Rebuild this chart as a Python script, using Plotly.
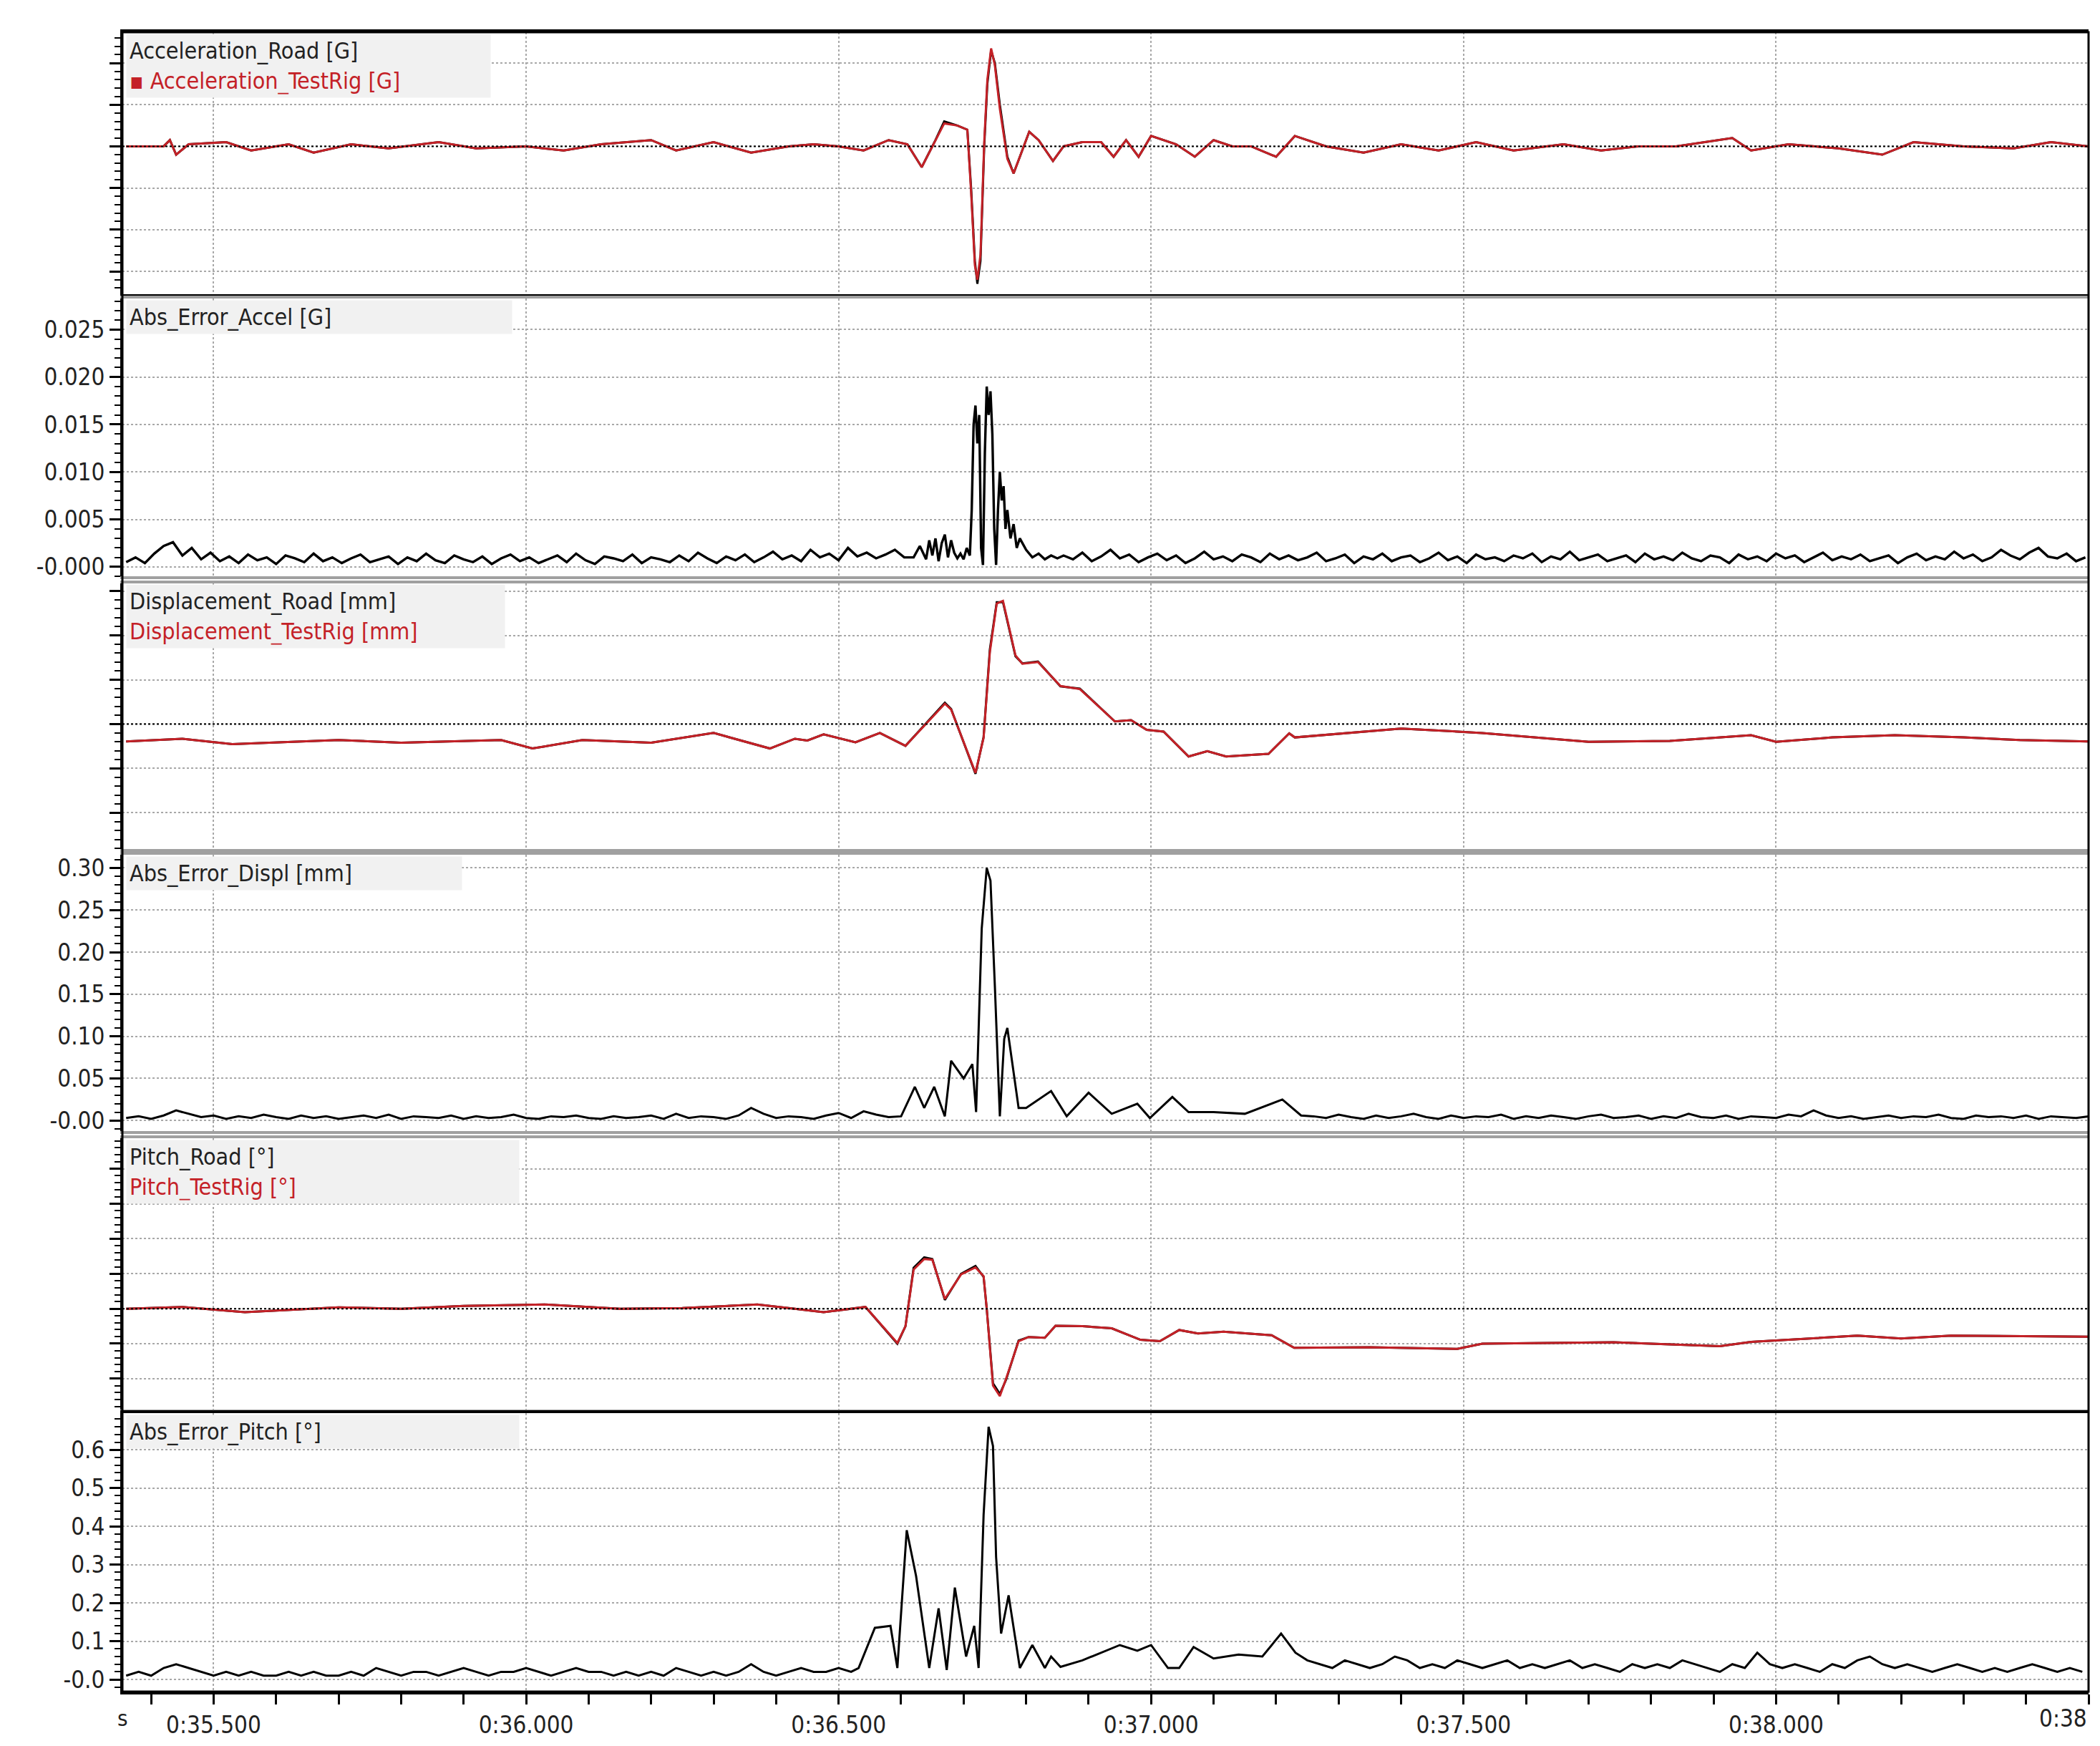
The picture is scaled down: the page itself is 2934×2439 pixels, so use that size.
import plotly.graph_objects as go
from plotly.subplots import make_subplots

# ---- data (time in s) ----
accel_t = [35.36, 35.42, 35.43, 35.44, 35.46, 35.52, 35.56, 35.62, 35.66, 35.72,
           35.78, 35.86, 35.92, 36.0, 36.06, 36.12, 36.2, 36.24, 36.3, 36.36,
           36.42, 36.46, 36.5, 36.54, 36.58, 36.61, 36.633, 36.655, 36.669, 36.69,
           36.706, 36.712, 36.718, 36.722, 36.727, 36.733, 36.738, 36.744, 36.75, 36.758,
           36.77, 36.78, 36.79, 36.805, 36.82, 36.843, 36.86, 36.89, 36.92, 36.94,
           36.96, 36.98, 37.0, 37.04, 37.07, 37.1, 37.13, 37.16, 37.2, 37.23,
           37.28, 37.34, 37.4, 37.46, 37.52, 37.58, 37.66, 37.72, 37.78, 37.84,
           37.93, 37.96, 38.02, 38.1, 38.17, 38.22, 38.3, 38.38, 38.44, 38.5]
accel_road = [0.0, 0.0, 0.03, -0.04, 0.01, 0.02, -0.02, 0.01, -0.03, 0.01,
              -0.01, 0.02, -0.01, 0.0, -0.02, 0.01, 0.03, -0.02, 0.02, -0.03,
              0.0, 0.01, 0.0, -0.02, 0.03, 0.01, -0.1, 0.03, 0.12, 0.1,
              0.08, -0.2, -0.55, -0.66, -0.55, 0.0, 0.3, 0.46, 0.4, 0.2,
              -0.05, -0.13, -0.05, 0.07, 0.03, -0.07, 0.0, 0.02, 0.02, -0.05,
              0.03, -0.05, 0.05, 0.01, -0.05, 0.03, 0.0, 0.0, -0.05, 0.05,
              0.0, -0.03, 0.01, -0.02, 0.02, -0.02, 0.01, -0.02, 0.0, 0.0,
              0.04, -0.02, 0.01, -0.01, -0.04, 0.02, 0.0, -0.01, 0.02, 0.0]
accel_rig = [0.0, 0.0, 0.03, -0.04, 0.01, 0.02, -0.02, 0.01, -0.03, 0.01,
             -0.01, 0.02, -0.01, 0.0, -0.02, 0.01, 0.03, -0.02, 0.02, -0.03,
             0.0, 0.01, 0.0, -0.02, 0.03, 0.01, -0.1, 0.03, 0.11, 0.1,
             0.08, -0.22, -0.57, -0.64, -0.52, 0.02, 0.32, 0.47, 0.39, 0.18,
             -0.06, -0.13, -0.05, 0.07, 0.03, -0.07, 0.0, 0.02, 0.02, -0.05,
             0.03, -0.05, 0.05, 0.01, -0.05, 0.03, 0.0, 0.0, -0.05, 0.05,
             0.0, -0.03, 0.01, -0.02, 0.02, -0.02, 0.01, -0.02, 0.0, 0.0,
             0.04, -0.02, 0.01, -0.01, -0.04, 0.02, 0.0, -0.01, 0.02, 0.0]

# abs accel error, x1e-4 G; background every 15 ms
err_acc_bg1 = [5, 10, 4, 14, 22, 26, 12, 20, 8, 15, 6, 11, 4, 13, 7, 10, 3, 12, 9, 5,
               14, 6, 10, 4, 9, 13, 5, 8, 11, 3, 10, 6, 14, 7, 4, 12, 8, 5, 11, 3,
               9, 13, 6, 10, 4, 8, 12, 5, 14, 7, 3, 11, 9, 6, 13, 4, 10, 8, 5, 12,
               6, 15, 9, 4, 11, 7, 13, 5, 10, 16, 8, 12, 6, 18, 10, 14, 7, 20, 11, 15,
               9, 13, 18, 10]
err_acc_ev_t = [36.62, 36.63, 36.64, 36.645, 36.65, 36.655, 36.66, 36.665, 36.67, 36.675,
                36.68, 36.685, 36.69, 36.695, 36.70, 36.705, 36.71, 36.713, 36.716, 36.719,
                36.722, 36.725, 36.728, 36.731, 36.734, 36.737, 36.74, 36.743, 36.746, 36.749,
                36.752, 36.755, 36.758, 36.761, 36.764, 36.767, 36.77, 36.775, 36.78, 36.785,
                36.79, 36.80, 36.81, 36.82, 36.83, 36.84, 36.85]
err_acc_ev = [10, 22, 8, 28, 12, 30, 6, 25, 34, 10,
              28, 15, 9, 14, 8, 20, 12, 60, 150, 170,
              130, 160, 20, 2, 120, 190, 160, 185, 140, 40,
              2, 60, 100, 70, 85, 40, 60, 30, 45, 20,
              30, 18, 10, 14, 8, 12, 9]
err_acc_bg2 = [12, 8, 15, 6, 11, 18, 9, 13, 5, 10, 14, 7, 12, 4, 9, 16, 8, 11, 6, 13,
               10, 5, 14, 8, 12, 7, 10, 15, 6, 9, 13, 4, 11, 8, 14, 6, 10, 12, 5, 9,
               15, 7, 11, 4, 13, 8, 10, 6, 12, 9, 14, 5, 11, 8, 16, 7, 10, 13, 6, 9,
               12, 5, 14, 8, 11, 7, 15, 9, 6, 12, 10, 4, 13, 8, 11, 6, 14, 9, 12, 5,
               10, 15, 7, 11, 8, 13, 6, 9, 12, 4, 10, 14, 7, 11, 8, 16, 9, 13, 6, 10,
               18, 12, 8, 15, 20, 11, 9, 14, 6, 10]

displ_t = [35.36, 35.45, 35.53, 35.7, 35.8, 35.9, 35.96, 36.01, 36.09, 36.2,
           36.3, 36.39, 36.43, 36.45, 36.476, 36.527, 36.566, 36.607, 36.67, 36.68,
           36.719, 36.732, 36.742, 36.753, 36.763, 36.783, 36.794, 36.819, 36.855, 36.886,
           36.942, 36.968, 36.993, 37.02, 37.06, 37.09, 37.12, 37.188, 37.221, 37.23,
           37.4, 37.53, 37.7, 37.83, 37.96, 38.0, 38.09, 38.19, 38.3, 38.39, 38.5]
displ_road = [-0.39, -0.33, -0.45, -0.36, -0.42, -0.38, -0.36, -0.55, -0.36, -0.42,
              -0.2, -0.55, -0.33, -0.37, -0.23, -0.41, -0.2, -0.49, 0.48, 0.34,
              -1.12, -0.29, 1.68, 2.75, 2.75, 1.53, 1.37, 1.41, 0.85, 0.8,
              0.06, 0.09, -0.13, -0.17, -0.73, -0.61, -0.73, -0.67, -0.21, -0.3,
              -0.1, -0.2, -0.4, -0.38, -0.25, -0.4, -0.3, -0.25, -0.3, -0.36, -0.39]
displ_rig = [-0.39, -0.33, -0.45, -0.36, -0.42, -0.38, -0.36, -0.55, -0.36, -0.42,
             -0.2, -0.55, -0.33, -0.37, -0.23, -0.41, -0.2, -0.49, 0.46, 0.33,
             -1.1, -0.31, 1.62, 2.72, 2.78, 1.55, 1.36, 1.4, 0.86, 0.79,
             0.06, 0.09, -0.13, -0.17, -0.73, -0.61, -0.73, -0.67, -0.21, -0.3,
             -0.1, -0.2, -0.4, -0.38, -0.25, -0.4, -0.3, -0.25, -0.3, -0.36, -0.39]

# abs displacement error, x1e-3 mm
err_dsp_bg1 = [3, 5, 2, 6, 12, 8, 4, 6, 2, 5, 3, 7, 4, 2, 6, 3, 5, 2, 4, 6,
               3, 7, 2, 5, 4, 3, 6, 2, 5, 3, 4, 7, 3, 2, 5, 4, 6, 3, 2, 5,
               3, 4, 6, 2, 8, 3, 5, 4, 2, 6, 15, 8, 3, 5, 4, 2, 6, 9, 3, 11,
               7, 4, 5]
err_dsp_ev_t = [36.622, 36.637, 36.653, 36.67, 36.68, 36.70, 36.714, 36.72, 36.729, 36.737,
                36.743, 36.75, 36.758, 36.765, 36.77, 36.788, 36.8, 36.84, 36.865, 36.9,
                36.937, 36.978, 36.998, 37.034, 37.06, 37.1, 37.15, 37.21, 37.24]
err_dsp_ev = [40, 15, 40, 5, 71, 50, 67, 10, 228, 300,
              285, 160, 5, 97, 110, 15, 15, 35, 5, 33,
              8, 20, 3, 28, 10, 10, 8, 25, 6]
err_dsp_bg2 = [5, 3, 7, 4, 2, 6, 3, 5, 8, 4, 2, 6, 3, 5, 4, 7, 2, 5, 3, 6,
               4, 2, 5, 7, 3, 4, 6, 2, 5, 3, 8, 4, 3, 6, 2, 5, 4, 3, 7, 5,
               12, 6, 3, 5, 2, 4, 6, 3, 5, 4, 7, 3, 2, 6, 4, 5, 3, 6, 2, 5,
               4, 3, 5]

pitch_t = [35.36, 35.45, 35.55, 35.7, 35.8, 35.9, 36.03, 36.15, 36.25, 36.37,
           36.43, 36.476, 36.543, 36.594, 36.607, 36.62, 36.637, 36.65, 36.67, 36.696,
           36.719, 36.732, 36.737, 36.747, 36.758, 36.768, 36.788, 36.804, 36.83, 36.847,
           36.89, 36.937, 36.983, 37.014, 37.045, 37.075, 37.116, 37.193, 37.229, 37.35,
           37.49, 37.53, 37.74, 37.91, 37.96, 38.13, 38.2, 38.28, 38.5]
pitch_road = [0.0, 0.005, -0.01, 0.004, 0.0, 0.008, 0.012, 0.0, 0.002, 0.012,
              0.0, -0.01, 0.005, -0.1, -0.05, 0.117, 0.147, 0.142, 0.025, 0.1,
              0.122, 0.091, 0.0, -0.213, -0.244, -0.203, -0.091, -0.081, -0.083, -0.049,
              -0.05, -0.056, -0.089, -0.093, -0.061, -0.071, -0.066, -0.076, -0.112, -0.11,
              -0.115, -0.1, -0.096, -0.107, -0.095, -0.077, -0.085, -0.077, -0.08]
pitch_rig = [0.0, 0.005, -0.01, 0.004, 0.0, 0.008, 0.012, 0.0, 0.002, 0.012,
             0.0, -0.01, 0.005, -0.098, -0.05, 0.112, 0.142, 0.14, 0.028, 0.098,
             0.118, 0.093, 0.0, -0.22, -0.25, -0.2, -0.093, -0.081, -0.083, -0.049,
             -0.05, -0.056, -0.089, -0.093, -0.061, -0.071, -0.066, -0.076, -0.112, -0.11,
             -0.115, -0.1, -0.096, -0.107, -0.095, -0.077, -0.085, -0.077, -0.08]

# abs pitch error, x1e-2 deg
err_pit_bg1 = [1, 2, 1, 3, 4, 3, 2, 1, 2, 1, 2, 1, 1, 2, 1, 2, 1, 1, 2, 1,
               3, 2, 1, 2, 2, 1, 2, 3, 2, 1, 2, 2, 3, 2, 1, 2, 3, 2, 2, 1,
               2, 1, 2, 1, 3, 2, 1, 2, 1, 2, 4, 2, 1, 2, 3, 2, 2, 3, 2]
err_pit_ev_t = [36.532, 36.558, 36.583, 36.594, 36.609, 36.624, 36.645, 36.66, 36.673, 36.686,
                36.704, 36.717, 36.724, 36.732, 36.74, 36.747, 36.752, 36.76, 36.772, 36.79,
                36.81, 36.83, 36.84, 36.855, 36.89, 36.95, 36.978, 37.0, 37.027, 37.045,
                37.068, 37.1, 37.14, 37.178, 37.208, 37.231]
err_pit_ev = [3, 13.5, 14, 3, 39, 27, 3, 18.6, 2.5, 24,
              6, 14, 3, 43, 66, 61, 32, 12, 22, 3,
              9, 3, 6, 3.3, 5, 9, 7.5, 9, 3, 3,
              8.5, 5.5, 6.5, 6, 12, 7]
err_pit_bg2 = [5, 4, 3, 5, 4, 3, 4, 6, 5, 3, 4, 3, 5, 4, 3, 4, 5, 3, 4, 3,
               4, 5, 3, 4, 3, 2, 4, 3, 4, 3, 5, 4, 3, 2, 4, 3, 7, 4, 3, 4,
               3, 2, 4, 3, 5, 6, 4, 3, 4, 3, 2, 3, 4, 3, 2, 3, 2, 3, 4, 3,
               2, 3, 2]

x_ticks = [35.5, 36.0, 36.5, 37.0, 37.5, 38.0]
x_ticktext = ["0:35.500", "0:36.000", "0:36.500", "0:37.000", "0:37.500", "0:38.000"]


def join_series(bg1, t1_start, step1, ev_t, ev_v, bg2, t2_start, step2, unit):
    t = [t1_start + step1 * i for i in range(len(bg1))] + ev_t + \
        [t2_start + step2 * i for i in range(len(bg2))]
    v = [x * unit for x in bg1 + ev_v + bg2]
    return t, v


ea_t, ea_v = join_series(err_acc_bg1, 35.36, 0.015, err_acc_ev_t, err_acc_ev,
                         err_acc_bg2, 36.86, 0.015, 1e-4)
ed_t, ed_v = join_series(err_dsp_bg1, 35.36, 0.02, err_dsp_ev_t, err_dsp_ev,
                         err_dsp_bg2, 37.26, 0.02, 1e-3)
ep_t, ep_v = join_series(err_pit_bg1, 35.36, 0.02, err_pit_ev_t, err_pit_ev,
                         err_pit_bg2, 37.25, 0.02, 1e-2)

S = 1.881  # reference pixel scale
RED = "#c42127"
FONT = "DejaVu Sans Condensed, DejaVu Sans, sans-serif"

fig = make_subplots(rows=6, cols=1, shared_xaxes=True, vertical_spacing=0.004)

line = dict(color="black", width=3)
rline = dict(color=RED, width=3)
fig.add_trace(go.Scatter(x=accel_t, y=accel_road, line=line), row=1, col=1)
fig.add_trace(go.Scatter(x=accel_t, y=accel_rig, line=rline), row=1, col=1)
fig.add_trace(go.Scatter(x=ea_t, y=ea_v, line=dict(color="black", width=3.4)), row=2, col=1)
fig.add_trace(go.Scatter(x=displ_t, y=displ_road, line=line), row=3, col=1)
fig.add_trace(go.Scatter(x=displ_t, y=displ_rig, line=rline), row=3, col=1)
fig.add_trace(go.Scatter(x=ed_t, y=ed_v, line=line), row=4, col=1)
fig.add_trace(go.Scatter(x=pitch_t, y=pitch_road, line=line), row=5, col=1)
fig.add_trace(go.Scatter(x=pitch_t, y=pitch_rig, line=rline), row=5, col=1)
fig.add_trace(go.Scatter(x=ep_t, y=ep_v, line=line), row=6, col=1)
fig.update_traces(mode="lines", showlegend=False, hoverinfo="skip")

# panel extents in reference pixels (top, bottom), plot area 20..1255
panels = [(20, 215), (218, 425), (430, 628), (632, 838), (843, 1045), (1048, 1255)]
yranges = [[-0.71, 0.548], [-0.001, 0.0283], [-2.82, 3.18],
           [-0.0128, 0.316], [-0.288, 0.488], [-0.0316, 0.695]]
ydticks = [0.2, 0.005, 1, 0.05, 0.1, 0.1]
ylabels = [None,
           ["-0.000", "0.005", "0.010", "0.015", "0.020", "0.025"],
           None,
           ["-0.00", "0.05", "0.10", "0.15", "0.20", "0.25", "0.30"],
           None,
           ["-0.0", "0.1", "0.2", "0.3", "0.4", "0.5", "0.6"]]

for i, ((top, bot), yr, dt, lab) in enumerate(zip(panels, yranges, ydticks, ylabels)):
    r = i + 1
    dom = [(1255 - bot) / 1235, (1255 - top) / 1235]
    yaxis = dict(domain=dom, range=yr, showgrid=True, gridcolor="#a8a8a8", griddash="dot",
                 gridwidth=1.5, zeroline=False, showline=True, linecolor="black", linewidth=3,
                 ticks="outside", ticklen=15, tickwidth=3, tickcolor="black",
                 minor=dict(ticks="outside", ticklen=8, tickwidth=2, tickcolor="black",
                            dtick=dt / 5, showgrid=False),
                 tickfont=dict(size=33, color="#222", family=FONT))
    if lab is None:
        yaxis.update(tick0=0, dtick=dt, showticklabels=False)
    else:
        yaxis.update(tickmode="array", tickvals=[k * dt for k in range(len(lab))], ticktext=lab)
    fig.update_yaxes(row=r, col=1, **yaxis)
    fig.update_xaxes(row=r, col=1, range=[35.354, 38.5], showgrid=True, gridcolor="#a8a8a8",
                     griddash="dot", gridwidth=1.5, zeroline=False, tickmode="array",
                     tickvals=x_ticks, ticktext=x_ticktext if r == 6 else None,
                     showticklabels=(r == 6), showline=True, mirror=True,
                     linecolor="#a0a0a0", linewidth=4)

fig.update_xaxes(row=6, col=1, ticks="outside", ticklen=14, tickwidth=3, tickcolor="black",
                 linecolor="black", minor=dict(ticks="outside", ticklen=14, tickwidth=3,
                                               tickcolor="black", dtick=0.1, tick0=35.0),
                 tickfont=dict(size=33, color="#222", family=FONT))
fig.update_xaxes(row=1, col=1, linecolor="black")

# dotted zero reference lines on the comparison panels
for r in (1, 3, 5):
    fig.add_hline(y=0, row=r, col=1, line=dict(color="black", width=2, dash="dot"))

titles = ["Acceleration_Road [G]<br><span style='color:%s'>▪ Acceleration_TestRig [G]</span>" % RED,
          "Abs_Error_Accel [G]",
          "Displacement_Road [mm]<br><span style='color:%s'>Displacement_TestRig [mm]</span>" % RED,
          "Abs_Error_Displ [mm]",
          "Pitch_Road [°]<br><span style='color:%s'>Pitch_TestRig [°]</span>" % RED,
          "Abs_Error_Pitch [°]"]
box_w = [500, 530, 520, 460, 540, 540]
for i, (txt, w) in enumerate(zip(titles, box_w)):
    sfx = "" if i == 0 else str(i + 1)
    fig.add_annotation(text=txt, xref="x%s domain" % sfx, yref="y%s domain" % sfx,
                       x=0.002, y=0.995, xanchor="left", yanchor="top", showarrow=False,
                       align="left", bgcolor="#f1f1f1", width=w, borderpad=4,
                       font=dict(size=32, color="#222", family=FONT))

fig.add_annotation(text="s", xref="paper", yref="paper", x=0.0, y=-0.016, xanchor="center",
                   yanchor="middle", showarrow=False, font=dict(size=31, color="#222", family=FONT))
fig.add_annotation(text="0:38", xref="paper", yref="paper", x=0.974, y=-0.016, xanchor="left",
                   yanchor="middle", showarrow=False, font=dict(size=33, color="#222", family=FONT))

fig.add_shape(type="rect", xref="paper", yref="paper", x0=0, x1=1, y0=0, y1=1,
              line=dict(color="black", width=3))

fig.update_layout(width=2934, height=2439, paper_bgcolor="white", plot_bgcolor="white",
                  margin=dict(l=int(87 * S), r=int(13 * S), t=int(20 * S), b=int(45 * S)),
                  showlegend=False)

fig.write_html("out.html")
